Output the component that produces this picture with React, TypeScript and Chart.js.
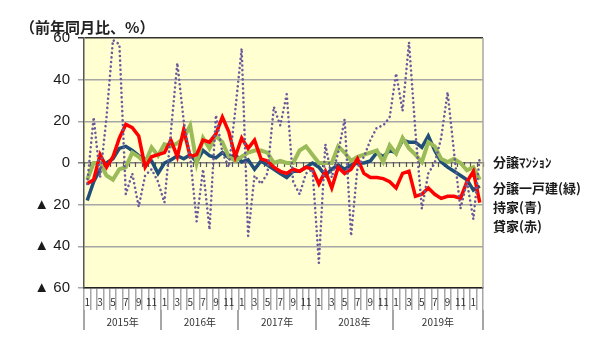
import React, { useEffect, useRef } from 'react';
import { Chart, registerables } from 'chart.js';

Chart.register(...registerables);

// Month tick labels (Jan 2015 – Feb 2020)
const monthLabels = [
  '1', '', '3', '', '5', '', '7', '', '9', '', '11', '',
  '1', '', '3', '', '5', '', '7', '', '9', '', '11', '',
  '1', '', '3', '', '5', '', '7', '', '9', '', '11', '',
  '1', '', '3', '', '5', '', '7', '', '9', '', '11', '',
  '1', '', '3', '', '5', '', '7', '', '9', '', '11', '',
  '1', '',
];
const yearLabels = ['2015年', '2016年', '2017年', '2018年', '2019年'];
const yearCenters = [5.5, 17.5, 29.5, 41.5, 54.5];
const yearBounds = [-0.5, 11.5, 23.5, 35.5, 47.5, 61.5];
const yTicks = [-60, -40, -20, 0, 20, 40, 60];

const seriesNames = ['分譲ﾏﾝｼｮﾝ', '分譲一戸建(緑)', '持家(青)', '貸家(赤)'];

const condo = [
  -10, 22, -7, 22, 59, 57, -15, -5, -21, -6,
  -3, -9, -19, 15, 48, 20, 3, -28, -3, -32,
  23, 5, -2, 25, 55, -35, -6, -10, -5, 27,
  18, 33, -9, -15, -5, -3, -48, 9, -7, 5,
  21, -35, -2, 3, 11, 17, 18, 22, 43, 25,
  58, 15, -22, -5, 0, 12, 34, 5, -22, -9,
  -27, 3,
];
const detached = [
  -8, 0, 0, -6, -8, -3, -2, 5, 3, 0,
  7.5, 3.5, 9, 8, 9.5, 12, 18, 0, 12, 7,
  13, 10, 3, 1, 3, 5, 6, 6, 5, 0,
  1, 0, 0, 6, 8, 4, 0, 0, 0, 8,
  5, 1, 3, 4, 5, 6, 0.5, 8.5, 4.5, 12,
  7, 4, 0.5, 10, 8, 2, 0.5, 2, 0, -3.5,
  -2, -8,
];
const owner = [
  -18, -9, -3, 0, 2, 7, 8, 6, 3.5, 2,
  1, -5, 0, 1.5, 3.5, 2, 4, 0.5, 6, 3.5,
  2.5, 5, 2.5, 4, 0.5, 1.5, -3, 1, -1, -3,
  -5, -7, -4, -4, -2, 0, -2, -6, -3, -1,
  -3, -1, 0, 0, 1, 5, 3, 6, 5, 11,
  10, 10, 7.5, 13, 6, 0.5, -2, -4, -6, -8,
  -13, -11,
];
const rental = [
  -10, -8, 4, -2, 3, 12, 18.5, 17, 13, -2,
  3, 4, 5, 11, 3, 16, 3, 4, 11, 10,
  14, 22, 15, 3, 12, 7, 11, 2, 1, -2,
  -4, -5, -3, -4, -2, -3, -10, -4, -12, -2,
  -5, -3, 2, -5, -7, -7, -7.5, -9, -12, -5,
  -4, -16, -15, -12, -15, -17, -16, -16, -17, -9,
  -4, -19,
];

const bgPlugin = {
  id: 'bgPlugin',
  beforeDraw(chart: any) {
    const { ctx, chartArea } = chart;
    ctx.save();
    ctx.fillStyle = '#ffffff';
    ctx.fillRect(0, 0, chart.width, chart.height);
    ctx.fillStyle = '#FFFFD2';
    ctx.fillRect(chartArea.left, chartArea.top, chartArea.right - chartArea.left, chartArea.bottom - chartArea.top);
    ctx.restore();
  },
  beforeDatasetsDraw(chart: any) {
    const { ctx, chartArea, scales } = chart;
    const x2 = scales.x2;
    const y0 = scales.y.getPixelForValue(0);
    ctx.save();
    ctx.strokeStyle = '#555555';
    ctx.lineWidth = 1.2;
    ctx.beginPath();
    for (let i = 0; i <= monthLabels.length; i++) {
      const px = Math.round(x2.getPixelForValue(i - 0.5)) + 0.5;
      ctx.moveTo(px, y0 - 1);
      ctx.lineTo(px, y0 + 4);
    }
    ctx.stroke();
    ctx.strokeStyle = '#A6A6A6';
    ctx.lineWidth = 1.5;
    ctx.beginPath();
    ctx.moveTo(chartArea.right, chartArea.top);
    ctx.lineTo(chartArea.right, chartArea.bottom);
    ctx.stroke();
    ctx.restore();
  },
};

export default function App() {
  const ref = useRef<HTMLCanvasElement | null>(null);

  useEffect(() => {
    if (!ref.current) return;
    const chart = new Chart(ref.current, {
      type: 'line',
      data: {
        labels: monthLabels,
        datasets: [
          {
            label: seriesNames[0],
            data: condo,
            borderColor: '#6A5A9C',
            borderWidth: 2.6,
            borderDash: [0.001, 4.6],
            borderCapStyle: 'round',
            pointRadius: 0,
            fill: false,
            tension: 0,
            order: 0,
            xAxisID: 'x',
            yAxisID: 'y',
          },
          {
            label: seriesNames[1],
            data: detached,
            borderColor: '#9BBB59',
            borderWidth: 4,
            pointRadius: 0,
            fill: false,
            tension: 0,
            order: 2,
            xAxisID: 'x',
            yAxisID: 'y',
          },
          {
            label: seriesNames[2],
            data: owner,
            borderColor: '#1F4E79',
            borderWidth: 3.5,
            pointRadius: 0,
            fill: false,
            tension: 0,
            order: 3,
            xAxisID: 'x',
            yAxisID: 'y',
          },
          {
            label: seriesNames[3],
            data: rental,
            borderColor: '#FF0000',
            borderWidth: 3.5,
            pointRadius: 0,
            fill: false,
            tension: 0,
            order: 1,
            xAxisID: 'x',
            yAxisID: 'y',
          },
        ],
      },
      options: {
        animation: false,
        responsive: false,
        devicePixelRatio: 1,
        layout: { padding: { top: 38, left: 0, right: 117, bottom: 0 } },
        plugins: {
          legend: { display: false },
          tooltip: { enabled: false },
          title: { display: false },
        },
        scales: {
          x: {
            type: 'category',
            position: 'bottom',
            offset: true,
            grid: {
              offset: true,
              drawOnChartArea: false,
              drawTicks: true,
              tickLength: 22,
              color: '#A6A6A6',
              lineWidth: 1.5,
            },
            border: { display: true, color: '#222222', width: 1.5 },
            ticks: {
              autoSkip: false,
              maxRotation: 0,
              minRotation: 0,
              padding: -14,
              color: '#333333',
              font: { family: '"Noto Sans CJK JP", "Noto Sans", sans-serif', size: 10 },
            },
            afterFit: (s: any) => { s.height = 22; },
          },
          x2: {
            type: 'linear',
            position: 'bottom',
            min: -0.5,
            max: 61.5,
            offset: false,
            afterBuildTicks: (s: any) => {
              const vals = [...yearBounds, ...yearCenters].sort((a, b) => a - b);
              s.ticks = vals.map((v) => ({ value: v }));
            },
            grid: {
              drawOnChartArea: false,
              drawTicks: true,
              tickLength: 20,
              color: (c: any) => (yearBounds.includes(c.tick?.value) ? '#A6A6A6' : 'rgba(0,0,0,0)'),
              lineWidth: 2,
            },
            border: { display: false },
            ticks: {
              autoSkip: false,
              maxRotation: 0,
              minRotation: 0,
              padding: -14,
              color: '#333333',
              font: { family: '"Noto Sans CJK JP", sans-serif', size: 10 },
              callback: (v: any) => {
                const idx = yearCenters.indexOf(Number(v));
                return idx >= 0 ? yearLabels[idx] : '';
              },
            },
            afterFit: (s: any) => { s.height = 41; },
          },
          y: {
            type: 'linear',
            min: -60,
            max: 60,
            afterBuildTicks: (s: any) => {
              s.ticks = yTicks.map((v) => ({ value: v }));
            },
            grid: {
              drawTicks: true,
              tickLength: 6,
              color: (c: any) => {
                const v = c.tick?.value;
                if (v === 60) return '#333333';
                if (v === 0) return '#7F7F7F';
                return '#A6A6A6';
              },
              lineWidth: 1.5,
            },
            border: { display: true, color: '#555555', width: 1.5 },
            ticks: {
              padding: 8,
              color: '#1a1a1a',
              font: { family: '"Liberation Sans", "DejaVu Sans", sans-serif', size: 15 },
              callback: (v: any) => (Number(v) < 0 ? '▲ ' + -Number(v) : String(v)),
            },
            afterFit: (s: any) => { s.width = 84; },
          },
        },
      },
      plugins: [bgPlugin],
    } as any);
    return () => chart.destroy();
  }, []);

  const legendStyle = (top: number): React.CSSProperties => ({
    position: 'absolute',
    left: 493,
    top,
    fontFamily: '"Noto Sans CJK JP", sans-serif',
    fontSize: 13,
    fontWeight: 'bold',
    lineHeight: '13px',
    color: '#1a1a1a',
    whiteSpace: 'nowrap',
  });

  return (
    <div style={{ position: 'fixed', left: 0, top: 0, width: 600, height: 351, background: '#fff', overflow: 'hidden' }}>
      <canvas ref={ref} width={600} height={351} style={{ position: 'absolute', left: 0, top: 0, width: 600, height: 351 }} />
      <div
        style={{
          position: 'absolute',
          left: 20,
          top: 19,
          fontFamily: '"Noto Sans CJK JP", sans-serif',
          fontSize: 15,
          fontWeight: 'bold',
          lineHeight: '16px',
          color: '#222',
          whiteSpace: 'nowrap',
        }}
      >
        （前年同月比、%）
      </div>
      <div style={legendStyle(155)}>{seriesNames[0]}</div>
      <div style={legendStyle(181)}>{seriesNames[1]}</div>
      <div style={legendStyle(200)}>{seriesNames[2]}</div>
      <div style={legendStyle(219)}>{seriesNames[3]}</div>
    </div>
  );
}
